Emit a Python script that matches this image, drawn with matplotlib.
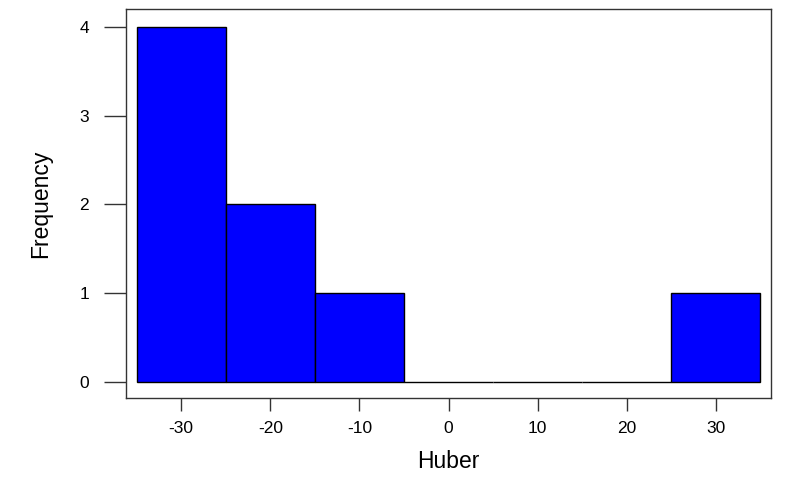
import numpy as np
import matplotlib
matplotlib.use('Agg')
import matplotlib.pyplot as plt

plt.rcParams['font.family'] = ['Liberation Sans', 'DejaVu Sans']

# histogram of Huber values (bin edges and counts)
bin_edges = [-35, -25, -15, -5, 5, 15, 25, 35]
counts = [4, 2, 1, 0, 0, 0, 1]
xticks = [-30, -20, -10, 0, 10, 20, 30]
yticks = [0, 1, 2, 3, 4]

fig = plt.figure(figsize=(7.97, 4.94), dpi=100)
ax = fig.add_axes([0.1581, 0.1943, 0.8093, 0.7865])

lefts = np.array(bin_edges[:-1])
widths = np.diff(bin_edges)
ax.bar(lefts, counts, width=widths, align='edge', color='#0000ff',
       edgecolor='black', linewidth=1.0)

ax.set_xlim(-36.2, 36.2)
ax.set_ylim(-0.18, 4.195)
ax.set_xticks(xticks)
ax.set_yticks(yticks)
ax.set_xticklabels([str(t) for t in xticks])
ax.set_yticklabels([str(t) for t in yticks])

for s in ax.spines.values():
    s.set_color('#333333')
    s.set_linewidth(1.0)

ax.tick_params(axis='x', length=9.5, width=1.0, color='#333333', pad=7,
               labelsize=12.5)
ax.tick_params(axis='y', length=15.5, width=1.0, color='#333333', pad=11,
               labelsize=12.5)

ax.set_xlabel('Huber', fontsize=16.5, labelpad=10)
ax.set_ylabel('Frequency', fontsize=16.5, labelpad=20)

fig.savefig('out.png', dpi=100)
